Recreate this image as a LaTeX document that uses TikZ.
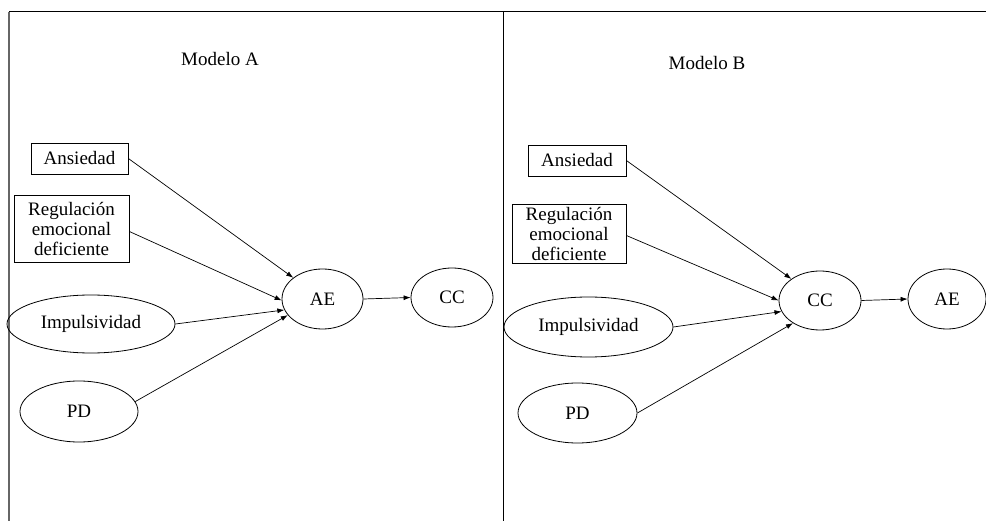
\documentclass[tikz,border=0pt]{standalone}
\usepackage{fontspec}
\setmainfont{Liberation Serif}
\usetikzlibrary{shapes.geometric,arrows.meta}
\begin{document}
\begin{tikzpicture}[x=1pt,y=-1pt,
  every node/.style={font=\rmfamily\fontsize{19}{20}\selectfont, inner sep=0pt, align=center},
  rbox/.style={draw, line width=0.8pt, rectangle},
  ell/.style={draw, line width=0.8pt, ellipse},
  arr/.style={line width=0.7pt, -{Latex[length=7pt,width=5pt]}},
  frameline/.style={line width=1pt}]
\useasboundingbox (0,0) rectangle (986,521);
\fill[white] (0,0) rectangle (986,521);
\draw[frameline, black!60, line width=1.4pt] (9,12) -- (9,521);
\draw[frameline] (9,12) -- (986,12);
\draw[frameline] (503,12) -- (503,521);

% Modelo A
\node (tA) at (220,59) {Modelo A};
\node[rbox, minimum width=97pt, minimum height=31pt] (ansA) at (79.5,158.5) {Ansiedad};
\node[rbox, minimum width=115pt, minimum height=67pt] (regA) at (71.5,228.5) {Regulación\\emocional\\deficiente};
\node[ell, minimum width=168pt, minimum height=58pt] (impA) at (91,324) {Impulsividad};
\node[ell, minimum width=118pt, minimum height=61pt] (pdA) at (79,411.5) {PD};
\node[ell, minimum width=81pt, minimum height=60pt] (aeA) at (322.5,299) {AE};
\node[ell, minimum width=82pt, minimum height=59pt] (ccA) at (452,297.5) {CC};

\draw[arr] (ansA.east) -- (aeA.144);
\draw[arr] ([yshift=-3pt]regA.east) -- (aeA.182);
\draw[arr] (impA.east) -- (aeA.196);
\draw[arr] (pdA.10) -- (aeA.205);
\draw[arr] (aeA.east) -- (ccA.west);

% Modelo B
\node (tB) at (707,63) {Modelo B};
\node[rbox, minimum width=98pt, minimum height=31pt] (ansB) at (577,160.5) {Ansiedad};
\node[rbox, minimum width=114pt, minimum height=59pt] (regB) at (569,233.5) {Regulación\\emocional\\deficiente};
\node[ell, minimum width=169pt, minimum height=60pt] (impB) at (588.5,327) {Impulsividad};
\node[ell, minimum width=119pt, minimum height=60pt] (pdB) at (577.5,413) {PD};
\node[ell, minimum width=82pt, minimum height=59pt] (ccB) at (820,300.5) {CC};
\node[ell, minimum width=78pt, minimum height=60pt] (aeB) at (947,299) {AE};

\draw[arr] (ansB.east) -- (ccB.143);
\draw[arr] ([yshift=-2pt]regB.east) -- (ccB.180);
\draw[arr] (impB.east) -- (ccB.196);
\draw[arr] (pdB.east) -- (ccB.220);
\draw[arr] (ccB.east) -- (aeB.west);
\end{tikzpicture}
\end{document}
